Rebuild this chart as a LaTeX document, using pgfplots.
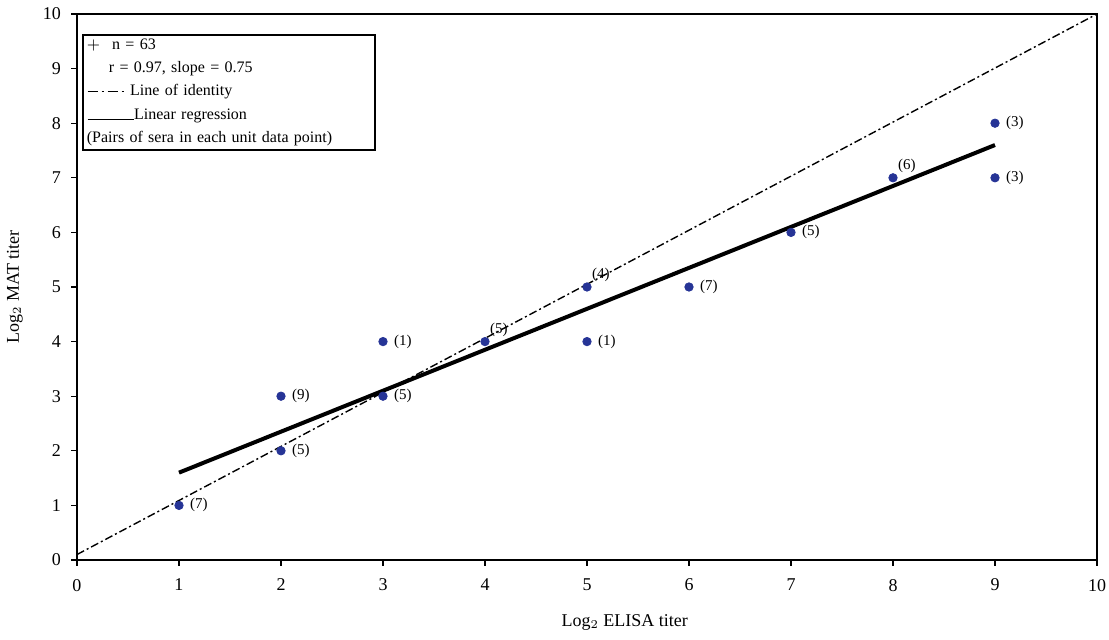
\documentclass[border=0pt]{standalone}
\usepackage{pgfplots}
\pgfplotsset{compat=1.18}
\usepackage{fontspec}
\setmainfont{Liberation Serif}
\definecolor{ptblue}{RGB}{38,52,150}
\begin{document}
\begin{tikzpicture}
\begin{axis}[
  name=ax,
  scale only axis,
  width=510pt, height=273pt,
  xmin=0, xmax=10, ymin=0, ymax=10,
  xtick={0,...,10}, ytick={0,...,10},
  xtick pos=left, ytick pos=left,
  tick align=outside,
  major tick length=3pt,
  axis line style={line width=0.8pt},
  every tick/.style={black, line width=0.6pt},
  /pgf/number format/assume math mode=true,
  tick label style={font=\fontsize{9}{10}\selectfont},
  xticklabel style={yshift=-3pt},
  yticklabel style={xshift=-1.5pt},
  label style={font=\fontsize{9}{10}\selectfont},
  xlabel={Log$_2$ ELISA titer},
  ylabel={Log$_2$ MAT titer},
  xlabel style={at={(axis description cs:0.537,0)}, anchor=center, yshift=-31pt},
  ylabel style={at={(axis description cs:-0.061,0.5)}, anchor=center},
  clip=false,
]
% line of identity
\addplot[black, line width=0.7pt, dash pattern=on 4pt off 1.5pt on 1pt off 1.5pt] coordinates {(0,0.1) (10,10)};
% linear regression
\addplot[black, line width=2pt] coordinates {(1,1.6) (9,7.6)};
% data points, labels to the right
\addplot[only marks, mark=*, mark size=2.1pt, color=ptblue,
  nodes near coords, point meta=explicit symbolic,
  nodes near coords style={black, anchor=west, xshift=2pt, font=\fontsize{7.5}{8}\selectfont}]
  table[meta=lab] {
x y lab
1 1 (7)
2 2 (5)
2 3 (9)
3 3 (5)
3 4 (1)
5 4 (1)
6 5 (7)
7 6 (5)
9 8 (3)
9 7 (3)
};
% data points, labels above right
\addplot[only marks, mark=*, mark size=2.1pt, color=ptblue,
  nodes near coords, point meta=explicit symbolic,
  nodes near coords style={black, anchor=south west, xshift=-1pt, yshift=-1pt, font=\fontsize{7.5}{8}\selectfont}]
  table[meta=lab] {
x y lab
4 4 (5)
5 5 (4)
8 7 (6)
};
\node[draw=black, line width=0.8pt, anchor=north west, inner sep=2pt,
      font=\fontsize{8}{11.6}\selectfont, align=left, text width=142pt]
  at (rel axis cs:0.005,0.963) {%
  $+$\hspace{6pt}n = 63\\
  \hspace{11pt}r = 0.97, slope = 0.75\\
  \tikz[baseline]\draw[line width=0.6pt, dash pattern=on 5pt off 2pt on 1pt off 2pt] (0,0.6ex)--(18pt,0.6ex);\hspace{3pt}Line of identity\\
  \tikz[baseline]\draw[line width=0.6pt] (-2pt,0)--(21pt,0);Linear regression\\
  (Pairs of sera in each unit data point)};
\end{axis}
\pgfresetboundingbox
\path ([shift={(-38.5pt,-40pt)}]ax.south west) rectangle ([shift={(6pt,7pt)}]ax.north east);
\end{tikzpicture}
\end{document}
